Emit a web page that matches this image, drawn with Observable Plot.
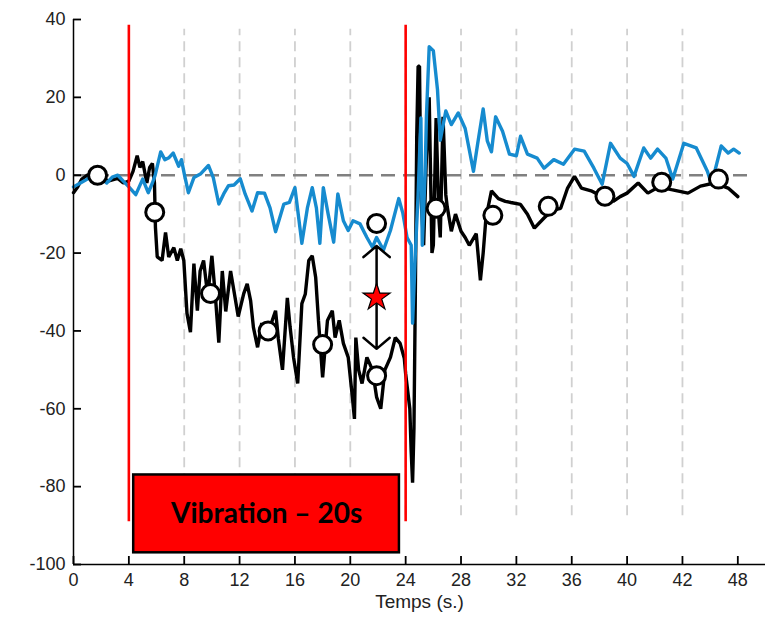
<!DOCTYPE html>
<html>
<head>
<meta charset="utf-8">
<script src="https://cdn.jsdelivr.net/npm/d3@7"></script>
<script src="https://cdn.jsdelivr.net/npm/@observablehq/plot@0.6"></script>
<style>
  html, body { margin: 0; padding: 0; background: #fff; }
  #chart svg { display: block; }
</style>
</head>
<body>
<div id="chart"></div>
<script>
// ---- data ----
const blackX = [0,0.3,0.6,1.0,1.5,2.0,2.5,3.0,3.2,3.6,4.0,4.3,4.6,4.8,5.0,5.3,5.5,5.7,5.85,5.92,6.05,6.4,6.65,6.88,7.25,7.5,7.75,7.97,8.2,8.45,8.7,8.95,9.15,9.4,9.7,10.0,10.25,10.5,10.75,11.0,11.35,11.7,11.9,12.3,12.55,12.8,13.0,13.3,13.6,13.9,14.2,14.6,14.8,15.1,15.45,15.65,15.9,16.2,16.5,16.75,17.0,17.25,17.5,17.7,18.0,18.35,18.7,18.9,19.2,19.5,19.85,20.15,20.3,20.4,20.6,20.85,21.2,21.6,21.9,22.2,22.5,22.9,23.25,23.6,23.9,24.0,24.3,24.4,24.5,24.6,24.7,24.8,24.9,25.0,25.1,25.3,25.5,25.7,25.9,26.0,26.2,26.4,26.5,26.7,26.9,27.0,27.3,27.6,28.0,28.3,28.6,29.1,29.4,29.6,29.8,30.2,30.7,31.2,31.6,32.3,32.8,33.3,34.0,34.6,35.2,35.7,36.2,36.7,37.4,38.2,39.0,39.5,40.0,40.8,41.5,42.3,43.2,44.4,45.3,46.3,47.3,48.0];
const blackY = [-4.5,-3,-1,0,0.5,-0.5,-1.5,-1,-0.8,-2,-1.5,1,5,2,3.5,-2,2,3,-2,-13.4,-21,-21.9,-14.7,-21,-18.6,-21.9,-18.9,-21.9,-35.5,-40.3,-22.7,-34.8,-24.6,-21.9,-31,-20.7,-31,-43,-24.6,-35,-24.6,-32,-36.3,-30.4,-27.9,-32.3,-39.1,-44.2,-38,-42,-39,-34.8,-42,-50,-31.5,-39,-46.8,-53.5,-33,-30.5,-21.9,-20.7,-26.3,-37.3,-51.9,-37.3,-34.8,-41.7,-37.3,-43.2,-46.8,-57,-62.6,-41.7,-50,-53.5,-46.8,-50,-57,-60,-50,-46.8,-41.7,-43.2,-47,-51,-60,-71,-79,-65,-30,10,28,28,-5,-18,5,20,-20,-18,14.7,-11,-16,15,-5,-8,-14.4,-10,-14.4,-16,-18,-15,-27,-20,-11,-4,-6,-6.7,-7,-7.5,-10,-13.6,-11,-9,-8.5,-3.3,-0.3,-3.3,-4,-5.5,-6.7,-5.5,-4.6,-2,-4.6,-3,-3.7,-4.6,-2.8,-2,-3.3,-5.5];

const blueX = [0,0.5,1.0,1.7,2.1,2.4,2.8,3.2,3.6,4.0,4.5,5.0,5.4,5.7,5.9,6.3,6.6,6.9,7.2,7.6,7.8,8.0,8.3,8.7,9.2,9.75,10.1,10.5,10.85,11.2,11.6,12.05,12.4,12.9,13.3,13.8,14.2,14.6,15.2,15.6,16.0,16.5,16.9,17.25,17.55,17.8,18.05,18.4,18.8,19.1,19.5,19.85,20.2,20.7,21.2,21.6,21.9,22.4,22.9,23.5,23.8,24.1,24.4,24.5,24.7,24.9,25.1,25.2,25.4,25.5,25.7,26.0,26.3,26.5,26.9,27.3,27.8,28.3,28.9,29.2,29.6,29.9,30.2,30.5,31.0,31.5,32.0,32.3,32.8,33.5,34.0,34.7,35.4,36.2,36.9,37.6,38.2,38.8,39.5,40.0,40.5,41.2,41.7,42.2,42.8,43.3,44.1,45.0,45.8,46.1,46.8,47.3,47.7,48.1];
const blueY = [-3,-2,-1,1,-1,-2,-0.5,0,-1.5,-3,-5,-1,-4.5,-2,0,6,4,4.5,5.7,2.3,4,0.4,-4.5,-0.6,0.4,2.5,-0.6,-7.4,-4.8,-2.7,-2.5,-0.9,-4.8,-9.2,-4.5,-4.6,-8.4,-14.5,-7.4,-7,-3.2,-17.5,-8.4,-3.2,-8.4,-17.5,-3.2,-10,-17.2,-4.8,-11.7,-14.2,-11.7,-12.5,-16,-18.5,-16,-19.2,-14.2,-6,-9.8,-16,-18,-38,-20,-5,14.7,-18,0,15,33,32,22,9,16.5,13,16,12,1,8,17,8.8,6,15,11.3,5.4,5,10,5.4,4.4,1.8,4,2.8,6.7,6.2,1.8,-2.3,8.2,4.4,3,-0.3,7,4.4,6.7,4.4,-1,8.2,7,1,-2.3,7.5,5.7,6.7,5.7];

const markerX = [1.74,5.87,9.9,14.06,18.0,21.9,21.9,26.2,30.3,34.3,38.4,42.5,46.6];
const markerY = [0,-9.5,-30.4,-40,-43.5,-12.4,-51.5,-8.5,-10.3,-8,-5.4,-1.8,-1];

const starX = [21.9];
const starY = [-31.4];
const arrowY1 = [-31.4, -31.4];
const arrowY2 = [-18.2, -44.6];

const vibrationLines = [4, 24];
const vibrationLabel = ["Vibration – 20s"];
const boxX1 = [4.35], boxX2 = [23.55], boxY1 = [-97], boxY2 = [-77];

const gridXs = [8,12,16,20,24,28,32,36,40,44];
const xTicks = [0,4,8,12,16,20,24,28,32,36,40,44,48];
const xTickLabels = ["0","4","8","12","16","20","24","28","32","36","40","42","48"];
const yTicks = [40,20,0,-20,-40,-60,-80,-100];
const xLabel = ["Temps (s.)"];

// ---- layout ----
const W = 779, H = 619, mL = 73, mR = 14, mT = 19, mB = 55;
const xDomain = [0, 50], yDomain = [-100, 40];
const tickPx = 8;
const xUnitsPerPx = (xDomain[1] - xDomain[0]) / (W - mL - mR);
const yUnitsPerPx = (yDomain[1] - yDomain[0]) / (H - mT - mB);

// ---- build ----
const blackData = blackX.map((x, i) => ({x, y: blackY[i]}));
const blueData = blueX.map((x, i) => ({x, y: blueY[i]}));
const markers = markerX.map((x, i) => ({x, y: markerY[i]}));
const arrows = arrowY1.map((y1, i) => ({x: starX[0], y1, y2: arrowY2[i]}));
const box = boxX1.map((x1, i) => ({x1, x2: boxX2[i], y1: boxY1[i], y2: boxY2[i]}));
const axisFont = "'Liberation Sans', Arial, sans-serif";
const yMin = yDomain[0];
const xMin = xDomain[0];

const plot = Plot.plot({
  width: W,
  height: H,
  marginLeft: mL,
  marginRight: mR,
  marginTop: mT,
  marginBottom: mB,
  style: {fontFamily: axisFont, fontSize: "18px", color: "#222", background: "#fff"},
  x: {domain: xDomain},
  y: {domain: yDomain},
  marks: [
    Plot.ruleX(gridXs, {y1: -87.5, y2: 37.5, stroke: "#d0d0d0", strokeWidth: 1.8, strokeDasharray: "10,6"}),
    Plot.ruleY([0], {x1: 0, x2: 49, stroke: "#808080", strokeWidth: 2.5, strokeDasharray: "14,8"}),
    Plot.line(blackData, {x: "x", y: "y", stroke: "#000", strokeWidth: 3.4, strokeLinejoin: "miter"}),
    Plot.line(blueData, {x: "x", y: "y", stroke: "#168bcf", strokeWidth: 3.4}),
    Plot.ruleX(vibrationLines, {y1: -89, y2: 38.5, stroke: "#ff0000", strokeWidth: 2.6}),
    Plot.rect(box, {x1: "x1", x2: "x2", y1: "y1", y2: "y2", fill: "#ff0000", stroke: "#000", strokeWidth: 2.5}),
    Plot.text(vibrationLabel, {x: (boxX1[0] + boxX2[0]) / 2, y: (boxY1[0] + boxY2[0]) / 2, text: d => d, fontFamily: "Lato", fontWeight: "bold", fontSize: 28, fill: "#000"}),
    Plot.arrow(arrows, {x: "x", y1: "y1", y2: "y2", stroke: "#000", strokeWidth: 2.5, headAngle: 100, headLength: 13}),
    Plot.dot(starX.map((x, i) => ({x, y: starY[i]})), {x: "x", y: "y", symbol: "star", r: 8.5, fill: "#ff0000", stroke: "#000", strokeWidth: 1.2}),
    Plot.dot(markers, {x: "x", y: "y", r: 9, fill: "#fff", stroke: "#000", strokeWidth: 3}),
    Plot.ruleX([xMin], {stroke: "#000", strokeWidth: 1.5}),
    Plot.ruleY([yMin], {stroke: "#000", strokeWidth: 1.5}),
    // inward tick marks
    Plot.ruleX(xTicks, {y1: yMin, y2: yMin + tickPx * yUnitsPerPx, stroke: "#000", strokeWidth: 1.8}),
    Plot.ruleY(yTicks, {x1: xMin, x2: xMin + tickPx * xUnitsPerPx, stroke: "#000", strokeWidth: 1.8}),
    // tick labels
    Plot.axisX({ticks: xTicks, tickFormat: (d) => xTickLabels[xTicks.indexOf(d)], tickSize: 0, tickPadding: 9, label: null, fontSize: 18, fontFamily: axisFont, fill: "#222"}),
    Plot.axisY({ticks: yTicks, tickFormat: (d) => String(d), tickSize: 0, tickPadding: 8, label: null, fontSize: 18, fontFamily: axisFont, fill: "#222"}),
    Plot.text(xLabel, {frameAnchor: "bottom", dy: 43, text: d => d, fontSize: 19, fontFamily: axisFont, fill: "#222"})
  ]
});
document.getElementById("chart").appendChild(plot);
</script>
</body>
</html>
